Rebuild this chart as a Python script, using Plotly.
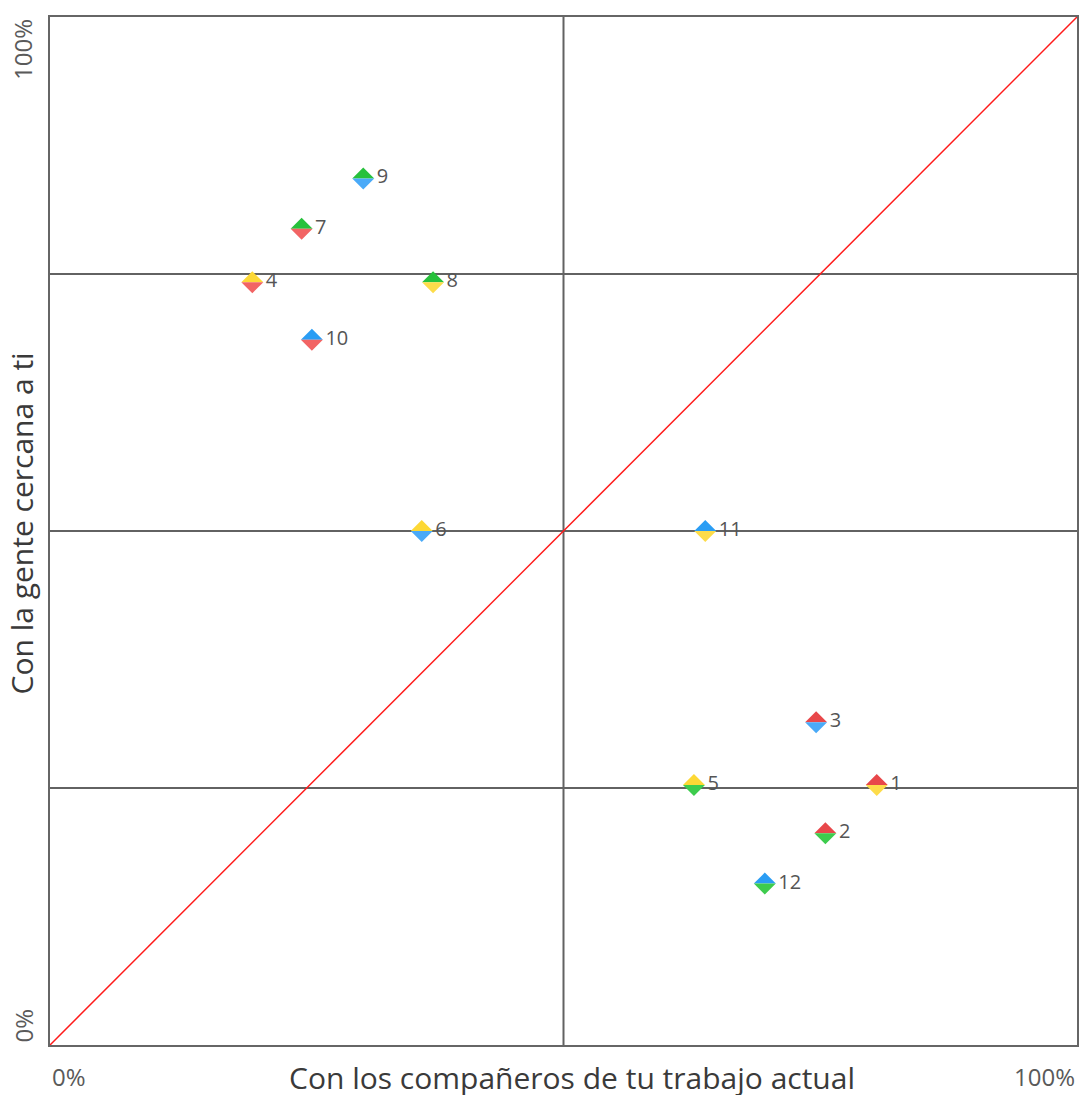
import plotly.graph_objects as go

labels = ["1", "2", "3", "4", "5", "6", "7", "8", "9", "10", "11", "12"]
x_vals = [80.5, 75.5, 74.6, 19.7, 62.7, 36.2, 24.5, 37.3, 30.5, 25.5, 63.8, 69.6]
y_vals = [25.3, 20.6, 31.4, 74.2, 25.3, 50.0, 79.4, 74.2, 84.3, 68.6, 50.0, 15.7]
top_color = ["red", "red", "red", "yellow", "yellow", "yellow", "green", "green", "green", "blue", "blue", "blue"]
bottom_color = ["yellow", "green", "blue", "red", "green", "blue", "red", "yellow", "blue", "red", "yellow", "green"]

TOP = {"red": "#e8474a", "green": "#27c13c", "blue": "#2a9df4", "yellow": "#fdd835"}
BOT = {"red": "#f26464", "green": "#3dcc4d", "blue": "#4aaaf8", "yellow": "#fddc4a"}

FONT = "Open Sans"

fig = go.Figure()

# diagonal reference line
fig.add_trace(go.Scatter(x=[0, 100], y=[0, 100], mode="lines",
                         line=dict(color="#ff1a1a", width=1.5), hoverinfo="skip",
                         showlegend=False))

# labels
fig.add_trace(go.Scatter(x=x_vals, y=y_vals, mode="markers+text", text=labels,
                         textposition="middle right",
                         marker=dict(size=20, opacity=0),
                         textfont=dict(family=FONT, size=20, color="#555555"),
                         showlegend=False, cliponaxis=False))

shapes = []
# grid lines
for gy in [25, 50, 75]:
    shapes.append(dict(type="line", xref="x", yref="y", x0=0, x1=100, y0=gy, y1=gy,
                       line=dict(color="#626262", width=2), layer="below"))
shapes.append(dict(type="line", xref="x", yref="y", x0=50, x1=50, y0=0, y1=100,
                   line=dict(color="#626262", width=2), layer="below"))

half = 11
for xv, yv, tc, bc in zip(x_vals, y_vals, top_color, bottom_color):
    shapes.append(dict(type="path", xref="x", yref="y", xsizemode="pixel", ysizemode="pixel",
                       xanchor=xv, yanchor=yv,
                       path=f"M-{half},0 L{half},0 L0,{half} Z",
                       fillcolor=TOP[tc], line=dict(width=0), layer="above"))
    shapes.append(dict(type="path", xref="x", yref="y", xsizemode="pixel", ysizemode="pixel",
                       xanchor=xv, yanchor=yv,
                       path=f"M-{half},0 L{half},0 L0,-{half} Z",
                       fillcolor=BOT[bc], line=dict(width=0), layer="above"))

tick_font = dict(family=FONT, size=24, color="#5a5a5a")
title_font = dict(family=FONT, size=30, color="#3a3a3a")
annotations = [
    dict(text="0%", xref="paper", yref="paper", x=0, y=0, xanchor="left", yanchor="top",
         yshift=-13, showarrow=False, font=tick_font),
    dict(text="100%", xref="paper", yref="paper", x=1, y=0, xanchor="right", yanchor="top",
         yshift=-13, showarrow=False, font=tick_font),
    dict(text="0%", xref="paper", yref="paper", x=0, y=0, xanchor="right", yanchor="bottom",
         xshift=-9, textangle=-90, showarrow=False, font=tick_font),
    dict(text="100%", xref="paper", yref="paper", x=0, y=1, xanchor="right", yanchor="top",
         xshift=-9, textangle=-90, showarrow=False, font=tick_font),
    dict(text="Con los compañeros de tu trabajo actual", xref="paper", yref="paper", x=0.5, y=0,
         xanchor="center", yanchor="top", xshift=8, yshift=-10, showarrow=False, font=title_font),
    dict(text="Con la gente cercana a ti", xref="paper", yref="paper", x=0, y=0.5,
         xanchor="right", yanchor="middle", xshift=-7, yshift=7, textangle=-90, showarrow=False,
         font=title_font),
]

fig.update_layout(
    width=1082, height=1095,
    margin=dict(l=50, r=3, t=17, b=50),
    paper_bgcolor="white", plot_bgcolor="white",
    shapes=shapes, annotations=annotations,
    showlegend=False,
    xaxis=dict(range=[0, 100], showgrid=False, zeroline=False, showticklabels=False,
               ticks="", showline=True, linecolor="#666666", linewidth=2, mirror=True),
    yaxis=dict(range=[0, 100], showgrid=False, zeroline=False, showticklabels=False,
               ticks="", showline=True, linecolor="#666666", linewidth=2, mirror=True),
)

fig.write_html(
    "out.html",
    config={"displayModeBar": False},
    post_script="document.body.style.margin='0';document.documentElement.style.overflow='hidden';document.body.style.overflow='hidden';",
)
